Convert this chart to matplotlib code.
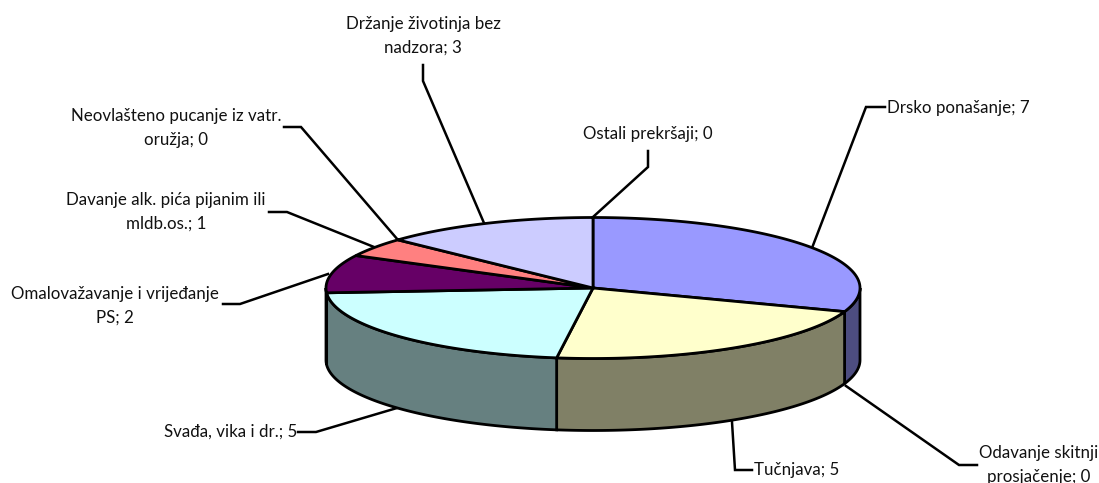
import numpy as np
import matplotlib
matplotlib.use("Agg")
import matplotlib.pyplot as plt

categories = ["Drsko ponašanje", "Odavanje skitnji\nprosjačenje", "Tučnjava", "Svađa, vika i dr.",
              "Omalovažavanje i vrijeđanje\nPS", "Davanje alk. pića pijanim ili\nmldb.os.",
              "Neovlašteno pucanje iz vatr.\noružja", "Držanje životinja bez\nnadzora", "Ostali prekršaji"]
values = [7, 0, 5, 5, 2, 1, 0, 3, 0]
top_colors = ["#9999FF", "#993366", "#FFFFCC", "#CCFFFF", "#660066", "#FF8080", "#0066CC", "#CCCCFF", "#000080"]
side_colors = ["#4D4D80", "#4D1A33", "#808066", "#668080", "#330033", "#804040", "#003366", "#666680", "#000040"]

# label anchor and leader line, in pixels
label_pos = [(887, 108, "left"), (1039, 465, "center"), (754, 470, "left"), (297, 432, "right"),
             (115, 306, "center"), (166, 212, "center"), (176, 128, "center"), (423, 36, "center"),
             (648, 134, "center")]
leaders = [
    [(885, 107), (866, 107), (812, 248)],
    [(977, 465), (959, 465), (846, 386)],
    [(752, 470), (735, 470), (732, 422)],
    [(298, 432), (316, 432), (397, 408)],
    [(223, 304), (240, 304), (328, 274)],
    [(269, 212), (287, 212), (374, 247)],
    [(284, 127), (301, 127), (398, 240)],
    [(423, 65), (423, 81), (484, 223)],
    [(648, 151), (648, 167), (593, 217)],
]

cx, cy, rx, ry, depth = 593, 288, 267, 70.5, 72


def rim(a0, a1, dy=0):
    t = np.radians(np.linspace(a0, a1, 120))
    return cx + rx * np.sin(t), cy - ry * np.cos(t) + dy


fig = plt.figure(figsize=(10.99, 4.83), dpi=100)
ax = fig.add_axes([0, 0, 1, 1])
ax.set_xlim(0, 1099)
ax.set_ylim(483, 0)
ax.axis("off")

edges = np.cumsum([0] + values) / sum(values) * 360

# side wall, only the front half of the rim shows
for i in range(len(values)):
    a0, a1 = max(edges[i], 90), min(edges[i + 1], 270)
    if a1 <= a0:
        continue
    x, y = rim(a0, a1)
    x2, y2 = rim(a1, a0, depth)
    ax.fill(np.r_[x, x2], np.r_[y, y2], facecolor=side_colors[i], edgecolor="black", lw=2.0, zorder=2)

# top of the pie
for i in range(len(values)):
    if values[i] == 0:
        continue
    x, y = rim(edges[i], edges[i + 1])
    ax.fill(np.r_[cx, x], np.r_[cy, y], facecolor=top_colors[i], edgecolor="black", lw=2.0, zorder=3)

for pts in leaders:
    px, py = zip(*pts)
    ax.plot(px, py, color="black", lw=1.8, zorder=1, solid_joinstyle="miter")

for name, val, (lx, ly, ha) in zip(categories, values, label_pos):
    ax.text(lx, ly, f"{name}; {val}", ha=ha, va="center", ma="center", family="Lato",
            fontsize=12.2, color="#111111", linespacing=1.62, zorder=4)

fig.savefig("out.png", dpi=100)
